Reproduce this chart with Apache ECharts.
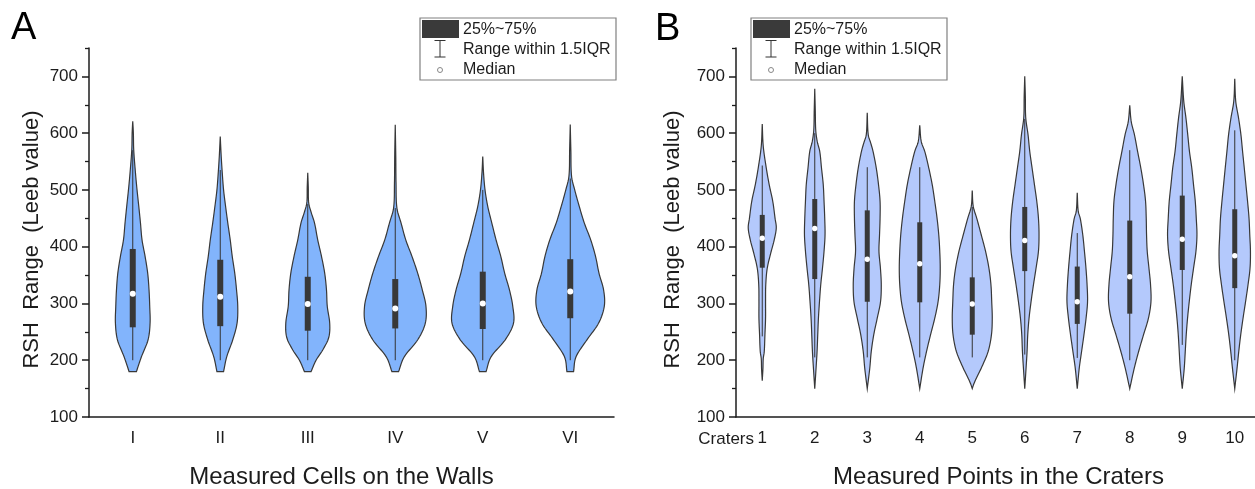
<!DOCTYPE html>
<html>
<head>
<meta charset="utf-8">
<script src="https://cdn.jsdelivr.net/npm/echarts@6/dist/echarts.min.js"></script>
<style>
  html, body { margin: 0; padding: 0; background: #fff; }
  #chart { width: 1255px; height: 489px; }
</style>
</head>
<body>
<div id="chart"></div>
<script>
// ---- panel A : measured cells on the walls ----
const wallCells = ['I', 'II', 'III', 'IV', 'V', 'VI'];
// [whisker low, Q1, median, Q3, whisker high]
const wallBoxes = [
  [200, 258, 317, 396, 570],
  [200, 260, 312, 377, 535],
  [200, 252, 299, 347, 475],
  [200, 256, 291, 343, 468],
  [200, 255, 300, 356, 500],
  [200, 274, 321, 378, 520]
];
// kernel density profiles: [value, density] (density = half width, % of category band)
const wallViolins = [
  [[180,4.2],[206,9.9],[236,17.5],[265,19.8],[295,19.4],[324,18.6],[353,17.1],[383,14.1],[412,10.6],[442,8.8],[471,6.9],[500,4.9],[530,3.1],[571,1.1],[600,0.7],[621,0]],
  [[180,3.8],[206,7.4],[236,14.3],[265,19.2],[295,20],[324,18.6],[353,16.6],[383,13.7],[412,11.4],[442,8.6],[471,6.1],[500,3.8],[530,2.3],[559,1.1],[594,0]],
  [[180,3.8],[200,9.5],[218,17.1],[240,24],[265,25.1],[295,22.3],[324,21.4],[353,19.4],[383,15.7],[412,11.4],[442,7.7],[460,4],[477,1.1],[505,0.6],[530,0]],
  [[180,3.8],[206,10.3],[236,25.7],[265,34.3],[295,35.1],[324,30.9],[353,25.7],[383,19.1],[412,12],[442,6.6],[468,1.9],[512,0.9],[560,0.6],[615,0]],
  [[180,3.8],[206,9.5],[236,25.7],[265,35.1],[295,34.3],[324,30.5],[353,25.1],[383,20.6],[412,15.2],[442,10.3],[471,5.7],[500,2.6],[530,0.9],[559,0]],
  [[180,3.8],[206,6.6],[236,19.1],[265,32.3],[295,38.9],[324,38.1],[353,32.9],[383,28.9],[412,23.4],[442,16],[471,10.3],[500,5.1],[524,1.5],[570,0.7],[615,0]]
];

// ---- panel B : measured points in the craters ----
const craterPoints = ['1', '2', '3', '4', '5', '6', '7', '8', '9', '10'];
const craterBoxes = [
  [242, 363, 415, 456, 543],
  [205, 343, 432, 484, 600],
  [205, 303, 378, 464, 540],
  [205, 302, 370, 443, 540],
  [205, 245, 299, 346, 470],
  [210, 357, 411, 470, 625],
  [204, 264, 303, 365, 424],
  [200, 282, 347, 446, 570],
  [227, 359, 413, 490, 680],
  [200, 327, 384, 466, 605]
];
const craterViolins = [
  [[164,0],[185,1.3],[203,1.9],[215,3.8],[245,5.1],[274,6.3],[303,6.3],[333,6.7],[362,9.5],[392,17.1],[410,22.3],[433,26.7],[450,24.4],[480,20],[509,13.3],[539,7.6],[577,1.9],[616,0]],
  [[150,0],[186,2.5],[215,4.4],[245,5.7],[274,7],[303,9],[333,11.4],[362,14.7],[392,17.7],[421,19.6],[450,19],[480,17.7],[509,16.2],[539,12.8],[568,9.5],[585,4.8],[605,1.9],[640,1],[678,0]],
  [[150,0],[186,4.8],[215,7.6],[245,12.4],[274,19],[303,25.3],[333,26.7],[362,25.1],[392,22.3],[421,23.4],[450,24.4],[480,24.4],[509,21.5],[539,17.1],[568,11],[583,6.5],[597,1.9],[636,0]],
  [[150,0],[186,6.3],[215,12.8],[245,20.6],[274,28.6],[303,34.9],[333,38.1],[362,39],[392,38.1],[421,36.2],[450,33],[480,28.6],[509,23.8],[539,17.1],[568,9.5],[585,2.9],[614,0]],
  [[150,0],[158,2.9],[168,7.6],[186,17.1],[215,30.1],[245,36.6],[274,38.1],[303,37.1],[333,35.6],[362,31.8],[392,25.3],[421,17.1],[450,8.6],[471,1.9],[499,0]],
  [[150,0],[186,2.5],[215,4.4],[245,5.7],[274,8.2],[303,12],[333,16.6],[362,21.5],[392,26.1],[421,27.2],[450,26.1],[480,22.9],[509,18.5],[539,13.9],[568,9.5],[597,6.3],[627,1.9],[665,1.1],[700,0]],
  [[150,0],[186,3.8],[215,8.2],[245,12.8],[274,16.8],[303,19.6],[333,18.7],[362,16.6],[392,13.7],[421,10.5],[450,5.7],[462,1.9],[495,0]],
  [[150,0],[186,8.6],[215,16.8],[245,26.3],[274,35.6],[303,40.4],[333,39.6],[362,36.6],[392,33.3],[421,32],[450,31.4],[480,30.1],[509,26.3],[539,21],[568,14.9],[597,9],[620,2.9],[649,0]],
  [[150,0],[186,3.8],[215,5.7],[245,7.6],[274,10.1],[303,13.3],[333,17.1],[362,21.5],[392,26.1],[421,28],[450,26.7],[480,24.8],[509,21.5],[539,18.1],[568,13.7],[597,10.5],[627,7],[656,2.9],[700,0]],
  [[150,0],[186,4.4],[215,7.6],[245,11.4],[274,15.8],[303,20.6],[333,25.3],[362,29.1],[392,29.9],[421,28.6],[450,27.2],[480,24.4],[509,21.3],[539,18.1],[568,14.9],[597,11.8],[627,7.2],[656,1.9],[696,0]]
];

// y axis ticks
const yMajorTicks = [100, 200, 300, 400, 500, 600, 700];
const yMinorTicks = [150, 250, 350, 450, 550, 650, 750];

const FONT = '"Liberation Sans", Arial, sans-serif';
const INK = '#1c1c1c';

// cubic hermite through the profile points so the outline is smooth
function smoothProfile(profile, step) {
  const n = profile.length;
  const v = profile.map(p => p[0]);
  const d = profile.map(p => p[1]);
  const m = d.map((_, i) => {
    if (i === 0) return (d[1] - d[0]) / (v[1] - v[0]);
    if (i === n - 1) return (d[n - 1] - d[n - 2]) / (v[n - 1] - v[n - 2]);
    return (d[i + 1] - d[i - 1]) / (v[i + 1] - v[i - 1]);
  });
  const out = [];
  for (let i = 0; i < n - 1; i++) {
    const h = v[i + 1] - v[i];
    const k = Math.max(2, Math.ceil(h / step));
    for (let j = 0; j < k; j++) {
      const t = j / k, t2 = t * t, t3 = t2 * t;
      const val = (2 * t3 - 3 * t2 + 1) * d[i] + (t3 - 2 * t2 + t) * h * m[i]
        + (-2 * t3 + 3 * t2) * d[i + 1] + (t3 - t2) * h * m[i + 1];
      out.push([v[i] + t * h, Math.max(0, val)]);
    }
  }
  out.push([v[n - 1], d[n - 1]]);
  return out;
}

function violinSeries(axisIndex, yIndex, violins, boxes, fill, boxWidth, dotR) {
  return {
    type: 'custom',
    xAxisIndex: axisIndex,
    yAxisIndex: yIndex,
    data: boxes.map((b, i) => [i, b[2]]),
    encode: { x: 0, y: 1 },
    renderItem: function (params, api) {
      const i = params.dataIndex;
      const band = api.size([1, 0])[0];
      const pts = smoothProfile(violins[i], 3);
      const right = [], left = [];
      pts.forEach(function (p) {
        const c = api.coord([i, p[0]]);
        const hw = p[1] / 100 * band;
        right.push([c[0] + hw, c[1]]);
        left.push([c[0] - hw, c[1]]);
      });
      const poly = right.concat(left.reverse());
      const b = boxes[i];
      const pLo = api.coord([i, b[0]]), pQ1 = api.coord([i, b[1]]);
      const pMed = api.coord([i, b[2]]), pQ3 = api.coord([i, b[3]]);
      const pHi = api.coord([i, b[4]]);
      return {
        type: 'group',
        children: [
          { type: 'polygon', shape: { points: poly },
            style: { fill: fill, stroke: '#383838', lineWidth: 1.2 } },
          { type: 'line', shape: { x1: pLo[0], y1: pLo[1], x2: pHi[0], y2: pHi[1] },
            style: { stroke: '#333', lineWidth: 1 } },
          { type: 'rect', shape: { x: pQ3[0] - boxWidth / 2, y: pQ3[1], width: boxWidth, height: pQ1[1] - pQ3[1] },
            style: { fill: '#383838' } },
          { type: 'circle', shape: { cx: pMed[0], cy: pMed[1], r: dotR },
            style: { fill: '#fff' } }
        ]
      };
    }
  };
}

function xAxisCfg(gridIndex, cats, name, namePad) {
  return {
    type: 'category', gridIndex: gridIndex, data: cats, boundaryGap: true,
    name: name, nameLocation: 'middle', nameGap: 48,
    nameTextStyle: { fontSize: 24, color: INK, fontFamily: FONT, padding: namePad },
    axisLine: { lineStyle: { color: INK, width: 1.5 } },
    axisTick: { alignWithLabel: true, length: 7, lineStyle: { color: INK, width: 1.5 } },
    axisLabel: { fontSize: 17, color: INK, fontFamily: FONT, margin: 13 },
    splitLine: { show: false }
  };
}

function yAxisCfg(gridIndex, nameGap) {
  return {
    type: 'value', gridIndex: gridIndex, position: 'left', min: 100, max: 750, interval: 50,
    name: 'RSH  Range  (Leeb value)', nameLocation: 'middle', nameGap: nameGap, nameRotate: 90,
    nameTextStyle: { fontSize: 22, color: INK, fontFamily: FONT, padding: [0, 14, 0, 0] },
    axisLine: { show: true, lineStyle: { color: INK, width: 1.5 } },
    axisTick: { show: true, length: 7, customValues: yMajorTicks, lineStyle: { color: INK, width: 1.5 } },
    axisLabel: { fontSize: 17, color: INK, fontFamily: FONT, margin: 11, customValues: yMajorTicks },
    splitLine: { show: false }
  };
}

function yMinorCfg(gridIndex) {
  return {
    type: 'value', gridIndex: gridIndex, position: 'left', min: 100, max: 750, interval: 50,
    axisLine: { show: false },
    axisTick: { show: true, length: 4, customValues: yMinorTicks, lineStyle: { color: INK, width: 1.3 } },
    axisLabel: { show: false },
    splitLine: { show: false }
  };
}

function legendGraphic(dx) {
  const x0 = 420 + dx;
  const txt = (t, y) => ({
    type: 'text', x: x0 + 43, y: y,
    style: { text: t, fontSize: 16, fontFamily: FONT, fill: INK, align: 'left', verticalAlign: 'middle' }
  });
  return [
    { type: 'rect', shape: { x: x0, y: 18, width: 196, height: 62 },
      style: { fill: '#fff', stroke: '#808080', lineWidth: 1.2 } },
    { type: 'rect', shape: { x: x0 + 2, y: 20, width: 37, height: 18 }, style: { fill: '#3a3a3a' } },
    { type: 'line', shape: { x1: x0 + 20, y1: 40.5, x2: x0 + 20, y2: 57 }, style: { stroke: '#333', lineWidth: 1 } },
    { type: 'line', shape: { x1: x0 + 14.5, y1: 40.5, x2: x0 + 25.5, y2: 40.5 }, style: { stroke: '#333', lineWidth: 1 } },
    { type: 'line', shape: { x1: x0 + 14.5, y1: 57, x2: x0 + 25.5, y2: 57 }, style: { stroke: '#333', lineWidth: 1 } },
    { type: 'circle', shape: { cx: x0 + 20, cy: 70, r: 2.5 }, style: { fill: '#fff', stroke: '#888', lineWidth: 1 } },
    txt('25%~75%', 30),
    txt('Range within 1.5IQR', 50),
    txt('Median', 70)
  ];
}

const chart = echarts.init(document.getElementById('chart'), null, { renderer: 'canvas' });

chart.setOption({
  backgroundColor: '#fff',
  animation: false,
  grid: [
    { left: 89, top: 48, width: 525, bottom: 72, containLabel: false, outerBoundsMode: 'none' },
    { left: 736, top: 48, width: 525, bottom: 72, containLabel: false, outerBoundsMode: 'none' }
  ],
  xAxis: [
    xAxisCfg(0, wallCells, 'Measured Cells on the Walls', [0, 20, 0, 0]),
    xAxisCfg(1, craterPoints, 'Measured Points in the Craters', [0, 0, 0, 0])
  ],
  yAxis: [yAxisCfg(0, 46), yMinorCfg(0), yAxisCfg(1, 52), yMinorCfg(1)],
  series: [
    violinSeries(0, 0, wallViolins, wallBoxes, '#82b4fc', 6, 3),
    violinSeries(1, 2, craterViolins, craterBoxes, '#b4c9fc', 5, 2.7)
  ],
  graphic: [
    { type: 'text', x: 11, y: 29,
      style: { text: 'A', fontSize: 38, fontFamily: FONT, fill: '#000', align: 'left', verticalAlign: 'middle' } },
    { type: 'text', x: 655, y: 29.5,
      style: { text: 'B', fontSize: 38, fontFamily: FONT, fill: '#000', align: 'left', verticalAlign: 'middle' } },
    { type: 'text', x: 754, y: 439,
      style: { text: 'Craters', fontSize: 17, fontFamily: FONT, fill: INK, align: 'right', verticalAlign: 'middle' } }
  ].concat(legendGraphic(0), legendGraphic(331))
});
</script>
</body>
</html>
